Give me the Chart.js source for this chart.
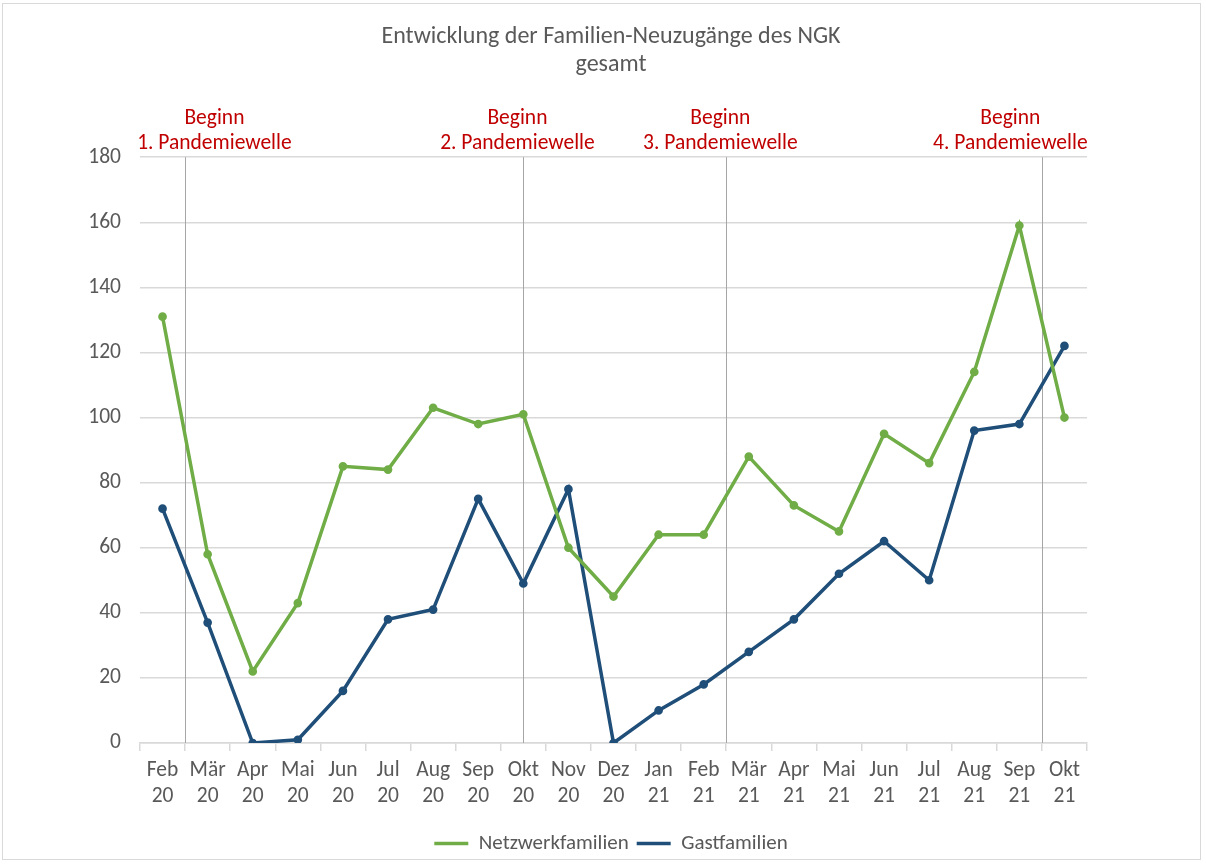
<!DOCTYPE html>
<html>
<head>
<meta charset="utf-8">
<script src="https://cdn.jsdelivr.net/npm/chart.js@4.4.1/dist/chart.umd.min.js"></script>
<style>
    html, body { margin: 0; padding: 0; background: #fff; overflow: hidden; }
    #wrap { position: absolute; left: 0; top: 0; width: 1206px; height: 866px; }
    #frame {
        position: absolute; left: 2px; top: 3px;
        width: 1199px; height: 857px;
        border: 1px solid #d9d9d9; box-sizing: border-box;
        pointer-events: none;
    }
</style>
</head>
<body>
<div id="wrap"><canvas id="ngkChart"></canvas></div>
<div id="frame"></div>
<script>
// Monatsachse (zweizeilig)
const months = [
    ['Feb', '20'], ['Mär', '20'], ['Apr', '20'], ['Mai', '20'], ['Jun', '20'],
    ['Jul', '20'], ['Aug', '20'], ['Sep', '20'], ['Okt', '20'], ['Nov', '20'],
    ['Dez', '20'], ['Jan', '21'], ['Feb', '21'], ['Mär', '21'], ['Apr', '21'],
    ['Mai', '21'], ['Jun', '21'], ['Jul', '21'], ['Aug', '21'], ['Sep', '21'],
    ['Okt', '21']
];

const netzwerkfamilien = [131, 58, 22, 43, 85, 84, 103, 98, 101, 60, 45, 64, 64, 88, 73, 65, 95, 86, 114, 159, 100];
const gastfamilien = [72, 37, 0, 1, 16, 38, 41, 75, 49, 78, 0, 10, 18, 28, 38, 52, 62, 50, 96, 98, 122];

const yTicks = [0, 20, 40, 60, 80, 100, 120, 140, 160, 180];

// Pandemiewellen: Markierung (Kategorie-Index) und Textmitte
const waveLines = [0.5, 8, 12.5, 19.5];
const waveTextAt = [1.15, 7.87, 12.37, 18.8];
const waveLabels = ['1. Pandemiewelle', '2. Pandemiewelle', '3. Pandemiewelle', '4. Pandemiewelle'];

const GREEN = '#70ad47';
const BLUE = '#1f4e79';
const TEXT_GRAY = '#595959';
const RED = '#c00000';
const FONT = 'Calibri, Carlito, "Open Sans", sans-serif';

/**
 * Vertical wave markers and their red captions
 */
const wavePlugin = {
    id: 'waves',
    beforeDatasetsDraw(chart) {
        const { ctx, chartArea, scales } = chart;
        ctx.save();
        ctx.strokeStyle = '#a6a6a6';
        ctx.lineWidth = 1;
        waveLines.forEach(v => {
            const x = Math.round(scales.x.getPixelForValue(v)) + 0.5;
            ctx.beginPath();
            ctx.moveTo(x, chartArea.top);
            ctx.lineTo(x, chartArea.bottom);
            ctx.stroke();
        });
        ctx.restore();
    },
    afterDraw(chart) {
        const { ctx, chartArea, scales } = chart;
        ctx.save();
        ctx.fillStyle = RED;
        ctx.font = '21.5px ' + FONT;
        ctx.textAlign = 'center';
        ctx.textBaseline = 'middle';
        waveTextAt.forEach((v, i) => {
            const x = scales.x.getPixelForValue(v);
            ctx.fillText('Beginn', x, chartArea.top - 39);
            ctx.fillText(waveLabels[i], x, chartArea.top - 14);
        });
        ctx.restore();
    }
};

const ctx = document.getElementById('ngkChart').getContext('2d');

new Chart(ctx, {
    type: 'line',
    data: {
        labels: months,
        datasets: [{
            label: 'Netzwerkfamilien',
            data: netzwerkfamilien,
            borderColor: GREEN,
            backgroundColor: GREEN,
            borderWidth: 3.5,
            pointRadius: 2.6,
            pointHoverRadius: 2.6,
            tension: 0
        }, {
            label: 'Gastfamilien',
            data: gastfamilien,
            borderColor: BLUE,
            backgroundColor: BLUE,
            borderWidth: 3.5,
            pointRadius: 2.6,
            pointHoverRadius: 2.6,
            tension: 0
        }]
    },
    options: {
        responsive: true,
        maintainAspectRatio: false,
        animation: false,
        layout: {
            padding: { left: 30, right: 14, top: 8, bottom: 2 }
        },
        scales: {
            x: {
                offset: true,
                afterFit(axis) { axis.height = 82; },
                grid: {
                    offset: true,
                    drawOnChartArea: false,
                    drawTicks: true,
                    tickLength: 8,
                    color: '#d9d9d9',
                    lineWidth: 1.5
                },
                border: { display: true, color: '#d9d9d9', width: 1.5 },
                ticks: {
                    color: TEXT_GRAY,
                    font: { family: FONT, size: 21.5, lineHeight: 1.2 },
                    maxRotation: 0,
                    autoSkip: false,
                    padding: 7
                }
            },
            y: {
                min: 0,
                max: 180,
                afterFit(axis) { axis.width = 110; },
                afterBuildTicks(axis) {
                    axis.ticks = yTicks.map(v => ({ value: v }));
                },
                grid: {
                    drawTicks: false,
                    color: '#d9d9d9',
                    lineWidth: 1.5
                },
                border: { display: false },
                ticks: {
                    color: TEXT_GRAY,
                    font: { family: FONT, size: 21.5 },
                    padding: 19
                }
            },
            // empty right axis, only keeps the plot narrower than the title/legend band
            yRight: {
                position: 'right',
                min: 0,
                max: 180,
                afterFit(axis) { axis.width = 105; },
                grid: { display: false },
                border: { display: false },
                ticks: { display: false }
            }
        },
        plugins: {
            title: {
                display: true,
                text: ['Entwicklung der Familien-Neuzugänge des NGK', 'gesamt'],
                color: TEXT_GRAY,
                font: { family: FONT, size: 24, weight: 'normal', lineHeight: 1.17 },
                padding: { top: 15, bottom: 78 }
            },
            legend: {
                position: 'bottom',
                labels: {
                    color: TEXT_GRAY,
                    font: { family: FONT, size: 21 },
                    usePointStyle: true,
                    pointStyle: 'line',
                    pointStyleWidth: 34,
                    padding: 8
                }
            },
            tooltip: { enabled: false }
        }
    },
    plugins: [wavePlugin]
});
</script>
</body>
</html>
